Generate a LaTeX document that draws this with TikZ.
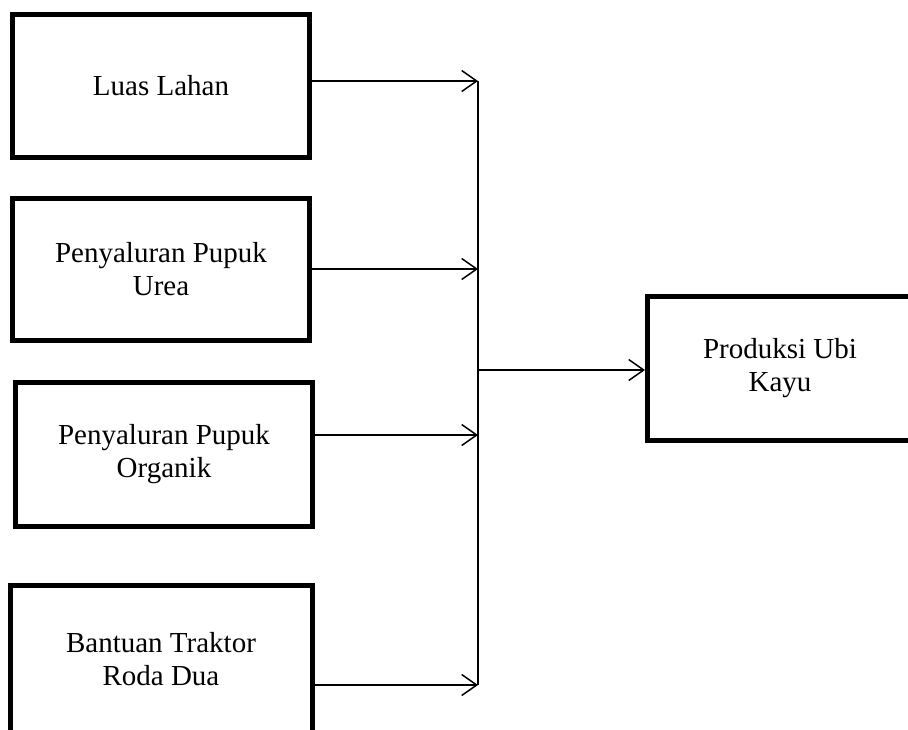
\documentclass[tikz,border=0pt]{standalone}
\usepackage{fontspec}
\setmainfont{Liberation Serif}
\usetikzlibrary{arrows.meta}

\tikzset{
  factor/.style={draw,line width=5pt,minimum width=297pt,minimum height=143pt,align=center,inner sep=0pt},
  flow/.style={line width=1.5pt,-{Straight Barb[length=15pt,width=21pt,line width=1.5pt]}}
}

\begin{document}
\begin{tikzpicture}[x=1pt,y=-1pt,font=\fontsize{29pt}{33pt}\selectfont]
\useasboundingbox (0,0) rectangle (908,729);
\clip (0,0) rectangle (908,729);
\node[factor] (luas) at (161,86) {Luas Lahan};
\node[factor,minimum height=142pt] (urea) at (161,269.5) {Penyaluran Pupuk\\Urea};
\node[factor,minimum height=144pt] (organik) at (164,454.5) {Penyaluran Pupuk\\Organik};
\node[factor,draw=none] (traktor) at (161,659) {Bantuan Traktor\\Roda Dua};
\draw[line width=5pt] ([yshift=-20pt]traktor.south west) -- (traktor.north west) -- (traktor.north east) -- ([yshift=-20pt]traktor.south east);
\node[factor,minimum width=265pt,minimum height=144pt] (produksi) at (780,368.5) {Produksi Ubi\\Kayu};
\coordinate (top) at (478,81);
\coordinate (j2) at (478,269);
\coordinate (j3) at (478,435);
\coordinate (bottom) at (478,685);
\coordinate (hub) at (478,370);
\draw[line width=1.5pt] (top) -- (bottom);
\draw[flow] (luas.east |- top) -- (top);
\draw[flow] (urea.east |- j2) -- (j2);
\draw[flow] (organik.east |- j3) -- (j3);
\draw[flow] (traktor.east |- bottom) -- (bottom);
\draw[flow] (hub) -- (produksi.west |- hub);
\end{tikzpicture}
\end{document}
